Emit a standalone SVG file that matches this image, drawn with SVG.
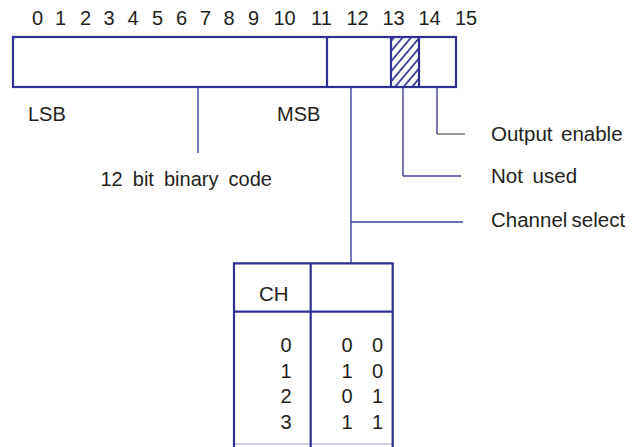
<svg xmlns="http://www.w3.org/2000/svg" width="638" height="447" viewBox="0 0 638 447">
<style>
text{font-family:"Liberation Sans",Arial,Helvetica,sans-serif;font-size:20px;fill:#231f20}
.lbl{font-size:20.5px}
.box{fill:#fff;stroke:#2e3192;stroke-width:2.2}
.div{stroke:#2e3192;stroke-width:2.2;fill:none}
.con{stroke:#3d409c;stroke-width:1.4;fill:none}
.gray{stroke:#6d6e71;stroke-width:1.4;fill:none}
.end{text-anchor:end}
.mid{text-anchor:middle}
</style>
<defs>
<pattern id="hatch" patternUnits="userSpaceOnUse" width="6.5" height="6.5" patternTransform="rotate(40)">
<line x1="1" y1="0" x2="1" y2="6.5" stroke="#2e3192" stroke-width="1.7"/>
</pattern>
</defs>
<g id="bit-numbers">
<text class="mid"><tspan x="37.5" y="25">0</tspan><tspan x="60.5" y="25">1</tspan><tspan x="85.5" y="25">2</tspan><tspan x="109" y="25">3</tspan><tspan x="133" y="25">4</tspan><tspan x="157.5" y="25">5</tspan><tspan x="181.5" y="25">6</tspan><tspan x="205.5" y="25">7</tspan><tspan x="229" y="25">8</tspan><tspan x="253.5" y="25">9</tspan><tspan x="284.5" y="25">10</tspan><tspan x="321.5" y="25">11</tspan><tspan x="357.5" y="25">12</tspan><tspan x="393.5" y="25">13</tspan><tspan x="429.5" y="25">14</tspan><tspan x="466" y="25">15</tspan></text>
</g>
<g id="register">
<rect class="box" x="13" y="37" width="443" height="50"/>
<rect x="391" y="37" width="28" height="50" fill="url(#hatch)"/>
<line class="div" x1="327" y1="37" x2="327" y2="87"/>
<line class="div" x1="391" y1="37" x2="391" y2="87"/>
<line class="div" x1="419" y1="37" x2="419" y2="87"/>
</g>
<g id="connectors">
<line class="con" x1="198" y1="88" x2="198" y2="153"/>
<line class="con" x1="351" y1="88" x2="351" y2="263"/>
<line class="con" x1="351" y1="222" x2="463" y2="222"/>
<line class="con" x1="403" y1="88" x2="403" y2="176"/>
<line class="con" x1="403" y1="176" x2="461" y2="176"/>
<line class="con" x1="437" y1="88" x2="437" y2="134"/>
<line class="gray" x1="437" y1="134" x2="465" y2="134"/>
</g>
<g id="lsb"><text x="28" y="121">LSB</text></g>
<g id="msb"><text x="277" y="121">MSB</text></g>
<g id="binary-code"><text x="100.5" y="186" word-spacing="4.5">12 bit binary code</text></g>
<g id="output-enable"><text class="lbl" x="491" y="141"><tspan>Output</tspan><tspan x="561">enable</tspan></text></g>
<g id="not-used"><text class="lbl" x="491" y="183" word-spacing="4">Not used</text></g>
<g id="channel-select"><text class="lbl" x="491" y="227" word-spacing="-1.5">Channel select</text></g>
<g id="channel-table">
<line x1="234" y1="444" x2="393" y2="444" stroke="#9fa1d0" stroke-width="1"/>
<path class="div" d="M234 447 V263.3 H392.7 V447"/>
<line class="div" x1="310.7" y1="263.3" x2="310.7" y2="447"/>
<line class="div" x1="234" y1="311.7" x2="392.7" y2="311.7" stroke-width="1.8"/>
<text class="end lbl" x="288.5" y="301">CH</text>
<text class="end"><tspan x="291.7" y="352.3">0</tspan><tspan x="291.7" y="377.7">1</tspan><tspan x="291.7" y="403.3">2</tspan><tspan x="291.7" y="428.7">3</tspan></text>
<text class="end"><tspan x="352.5" y="352.3">0</tspan><tspan x="352.5" y="377.7">1</tspan><tspan x="352.5" y="403.3">0</tspan><tspan x="352.5" y="428.7">1</tspan></text>
<text class="end"><tspan x="383" y="352.3">0</tspan><tspan x="383" y="377.7">0</tspan><tspan x="383" y="403.3">1</tspan><tspan x="383" y="428.7">1</tspan></text>
</g>
</svg>
